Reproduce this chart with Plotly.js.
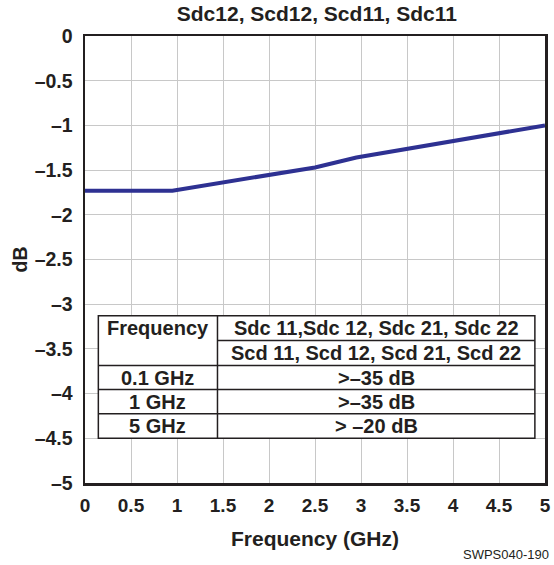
<!DOCTYPE html>
<html>
<head>
<meta charset="utf-8">
<script src="https://cdn.plot.ly/plotly-3.0.1.min.js"></script>
<style>html,body{margin:0;padding:0;background:#fff;}#chart{width:554px;height:565px;}</style>
</head>
<body>
<div id="chart"></div>
<script>
// Data
const freqGHz = [0, 0.95, 2.5, 2.95, 5];
const lossDB = [-1.73, -1.73, -1.47, -1.36, -1.0];

const xTicks = [0, 0.5, 1, 1.5, 2, 2.5, 3, 3.5, 4, 4.5, 5];
const xTickLabels = ["0", "0.5", "1", "1.5", "2", "2.5", "3", "3.5", "4", "4.5", "5"];
const yTicks = [0, -0.5, -1, -1.5, -2, -2.5, -3, -3.5, -4, -4.5, -5];
const yTickLabels = ["0", "\u20130.5", "\u20131", "\u20131.5", "\u20132", "\u20132.5", "\u20133", "\u20133.5", "\u20134", "\u20134.5", "\u20135"];

const tableHeader1 = ["Frequency", "Sdc 11,Sdc 12, Sdc 21, Sdc 22"];
const tableHeader2 = ["", "Scd 11, Scd 12, Scd 21, Scd 22"];
const tableFreqs = ["0.1 GHz", "1 GHz", "5 GHz"];
const tableLimits = [">\u201335 dB", ">\u201335 dB", "> \u201320 dB"];

const ink = "#231f20";
const FONT = "Arial, 'Liberation Sans', Helvetica, sans-serif";

// table geometry (data coordinates)
const tx0 = 0.145, tx1 = 1.44, tx2 = 4.89;
const rowY = [-3.13, -3.405, -3.685, -3.955, -4.225, -4.50];

const shapes = [];
const lineStyle = {color: ink, width: 1.5};
shapes.push({type: "rect", xref: "x", yref: "y", x0: tx0, x1: tx2, y0: rowY[0], y1: rowY[5], line: lineStyle, fillcolor: "#ffffff", layer: "above"});
shapes.push({type: "line", xref: "x", yref: "y", x0: tx1, x1: tx1, y0: rowY[0], y1: rowY[5], line: lineStyle, layer: "above"});
shapes.push({type: "line", xref: "x", yref: "y", x0: tx1, x1: tx2, y0: rowY[1], y1: rowY[1], line: lineStyle, layer: "above"});
for (let i = 2; i <= 4; i++) {
  shapes.push({type: "line", xref: "x", yref: "y", x0: tx0, x1: tx2, y0: rowY[i], y1: rowY[i], line: lineStyle, layer: "above"});
}

const annotations = [];
const cellFont = {family: FONT, size: 20, color: ink, weight: "bold"};
const rows = [tableHeader1, tableHeader2];
tableFreqs.forEach((f, i) => rows.push([f, tableLimits[i]]));
rows.forEach((r, i) => {
  const yc = (rowY[i] + rowY[i + 1]) / 2;
  annotations.push({xref: "x", yref: "y", x: (tx0 + tx1) / 2, y: yc, text: "<b>" + r[0] + "</b>", showarrow: false, font: cellFont, xanchor: "center", yanchor: "middle"});
  annotations.push({xref: "x", yref: "y", x: (tx1 + tx2) / 2, y: yc, text: "<b>" + r[1] + "</b>", showarrow: false, font: cellFont, xanchor: "center", yanchor: "middle"});
});
annotations.push({xref: "paper", yref: "paper", x: 1.012, y: -0.161, text: "SWPS040-190", showarrow: false, xanchor: "right", yanchor: "middle", font: {family: FONT, size: 13, color: ink}});

const trace = {
  x: freqGHz, y: lossDB, type: "scatter", mode: "lines",
  line: {color: "#2e3192", width: 4},
  hoverinfo: "skip"
};

const layout = {
  width: 554, height: 565,
  margin: {l: 85, r: 9, t: 36, b: 82},
  paper_bgcolor: "#ffffff", plot_bgcolor: "#ffffff",
  showlegend: false,
  title: {text: "<b>Sdc12, Scd12, Scd11, Sdc11</b>", font: {family: FONT, size: 21, color: ink}, x: 0.572, xanchor: "center", y: 0.976, yanchor: "middle"},
  xaxis: {
    range: [0, 5], tickvals: xTicks, ticktext: xTickLabels,
    showgrid: true, gridcolor: "#c8c8c8", gridwidth: 1,
    showline: true, linecolor: ink, linewidth: 2.5, mirror: true,
    ticks: "", zeroline: false, ticklabelstandoff: 4,
    tickfont: {family: FONT, size: 19, color: ink, weight: "bold"},
    title: {text: "<b>Frequency (GHz)</b>", font: {family: FONT, size: 21, color: ink}, standoff: 16}
  },
  yaxis: {
    range: [-5, 0], tickvals: yTicks, ticktext: yTickLabels,
    showgrid: true, gridcolor: "#c8c8c8", gridwidth: 1,
    showline: true, linecolor: ink, linewidth: 2.5, mirror: true,
    ticks: "", zeroline: false, ticklabelstandoff: 6,
    tickfont: {family: FONT, size: 19.5, color: ink, weight: "bold"},
    title: {text: "<b>dB</b>", font: {family: FONT, size: 19.5, color: ink}, standoff: 2}
  },
  shapes: shapes,
  annotations: annotations
};

Plotly.newPlot("chart", [trace], layout, {displayModeBar: false, staticPlot: true});
</script>
</body>
</html>
